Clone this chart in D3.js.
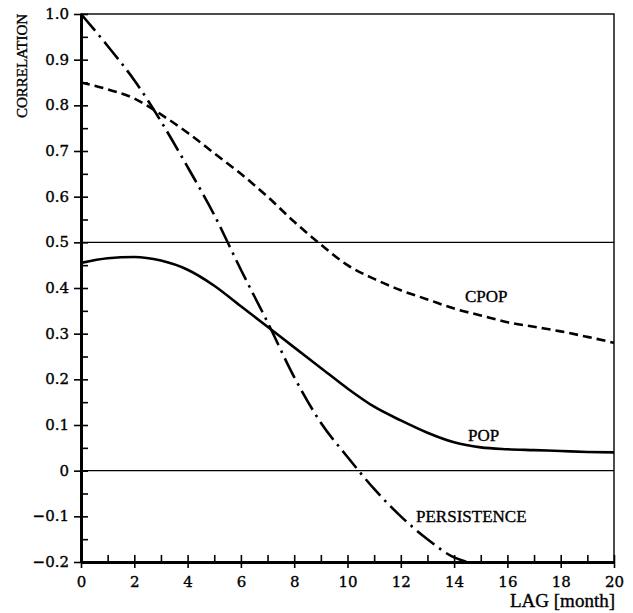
<!DOCTYPE html>
<html>
<head>
<meta charset="utf-8">
<script src="https://cdn.jsdelivr.net/npm/d3@7"></script>
<style>
  body { margin: 0; background: #fff; }
  svg text { fill: #000; stroke: #000; stroke-width: 0.35px; }
  .num { font-family: "DejaVu Serif", serif; }
  .lbl { font-family: "Liberation Serif", serif; }
</style>
</head>
<body>
<svg id="chart" width="633" height="613"></svg>
<script>
// lag in months
const lags = [0, 1, 2, 3, 4, 5, 6, 7, 8, 9, 10, 11, 12, 13, 14, 15, 16, 17, 18, 19, 20];

const cpop = [0.85, 0.835, 0.815, 0.78, 0.74, 0.695, 0.65, 0.6, 0.545, 0.495, 0.45,
    0.42, 0.395, 0.375, 0.355, 0.34, 0.325, 0.315, 0.305, 0.293, 0.28];

const pop = [0.455, 0.465, 0.468, 0.46, 0.44, 0.405, 0.36, 0.315, 0.27, 0.225, 0.18,
    0.14, 0.11, 0.083, 0.062, 0.051, 0.047, 0.045, 0.043, 0.041, 0.04];

const persistLags = [0, 1, 2, 3, 4, 5, 6, 7, 8, 9, 10, 11, 12, 13, 14, 14.5];
const persistence = [1.0, 0.93, 0.855, 0.765, 0.665, 0.56, 0.44, 0.325, 0.205, 0.105, 0.03,
    -0.04, -0.1, -0.15, -0.19, -0.2];

const xTicks = [0, 2, 4, 6, 8, 10, 12, 14, 16, 18, 20];
const yTicks = [-0.2, -0.1, 0, 0.1, 0.2, 0.3, 0.4, 0.5, 0.6, 0.7, 0.8, 0.9, 1.0];
const refLines = [0, 0.5];

const margin = { top: 14, right: 19, bottom: 51, left: 81 };
const width = 633 - margin.left - margin.right;
const height = 613 - margin.top - margin.bottom;

const svg = d3.select('#chart');
const g = svg.append('g').attr('transform', `translate(${margin.left},${margin.top})`);

const x = d3.scaleLinear().domain([0, 20]).range([0, width]);
const y = d3.scaleLinear().domain([-0.2, 1.0]).range([height, 0]);

// frame (top / right thin)
g.append('rect')
    .attr('x', 0).attr('y', 0)
    .attr('width', width).attr('height', height)
    .attr('fill', 'none')
    .attr('stroke', '#000')
    .attr('stroke-width', 1.4);

// reference lines
g.selectAll('.ref')
    .data(refLines)
    .enter()
    .append('line')
    .attr('x1', 0).attr('x2', width)
    .attr('y1', (d) => y(d)).attr('y2', (d) => y(d))
    .attr('stroke', '#000')
    .attr('stroke-width', 1.3);

// x axis
const xAxis = g.append('g').attr('transform', `translate(0,${height})`);
xAxis.call(d3.axisBottom(x).tickValues(d3.range(0, 21, 1)).tickSize(0).tickFormat(''));
xAxis.select('.domain').attr('stroke-width', 3);
xAxis.selectAll('.tick line')
    .attr('y1', (d) => (d % 2 === 0 ? 6 : 0))
    .attr('y2', -7)
    .attr('stroke-width', 1.6);
xAxis.selectAll('.tick')
    .filter((d) => xTicks.includes(d))
    .append('text')
    .attr('class', 'num')
    .attr('y', 25)
    .attr('text-anchor', 'middle')
    .style('font-size', '15px')
    .text((d) => d);

// y axis
const yAxis = g.append('g');
yAxis.call(d3.axisLeft(y).tickValues(d3.range(-4, 21, 1).map((v) => v * 0.05)).tickSize(0).tickFormat(''));
yAxis.select('.domain').attr('stroke-width', 3);
yAxis.selectAll('.tick line')
    .attr('x1', (d, i) => (i % 2 === 0 ? -7 : 0))
    .attr('x2', 7)
    .attr('stroke-width', 1.6);
yAxis.selectAll('.ylab')
    .data(yTicks)
    .enter()
    .append('text')
    .attr('class', 'num')
    .attr('x', -12)
    .attr('y', (d) => y(d) + 5)
    .attr('text-anchor', 'end')
    .style('font-size', '15px')
    .text((d) => (d === 0 ? '0' : d3.format('.1f')(d).replace('-', '\u2212')));

// axis titles
svg.append('text')
    .attr('class', 'lbl')
    .attr('transform', 'translate(27,66) rotate(-90)')
    .attr('text-anchor', 'middle')
    .style('font-size', '15px')
    .text('CORRELATION');

svg.append('text')
    .attr('class', 'lbl')
    .attr('x', 615)
    .attr('y', 607)
    .attr('text-anchor', 'end')
    .style('font-size', '19px')
    .text('LAG [month]');

// curves
const line = d3.line()
    .x((d) => x(d[0]))
    .y((d) => y(d[1]))
    .curve(d3.curveMonotoneX);

g.append('path')
    .datum(lags.map((l, i) => [l, cpop[i]]))
    .attr('d', line)
    .attr('fill', 'none')
    .attr('stroke', '#000')
    .attr('stroke-width', 2.6)
    .attr('stroke-dasharray', '9,5');

g.append('path')
    .datum(lags.map((l, i) => [l, pop[i]]))
    .attr('d', line)
    .attr('fill', 'none')
    .attr('stroke', '#000')
    .attr('stroke-width', 2.6);

g.append('path')
    .datum(persistLags.map((l, i) => [l, persistence[i]]))
    .attr('d', line)
    .attr('fill', 'none')
    .attr('stroke', '#000')
    .attr('stroke-width', 2.6)
    .attr('stroke-dasharray', '22,6,2.5,6');

// curve labels
svg.append('text')
    .attr('class', 'lbl')
    .attr('x', 465).attr('y', 302)
    .style('font-size', '17px')
    .text('CPOP');

svg.append('text')
    .attr('class', 'lbl')
    .attr('x', 468).attr('y', 441)
    .style('font-size', '17px')
    .text('POP');

svg.append('text')
    .attr('class', 'lbl')
    .attr('x', 416).attr('y', 522)
    .style('font-size', '17px')
    .text('PERSISTENCE');
</script>
</body>
</html>
